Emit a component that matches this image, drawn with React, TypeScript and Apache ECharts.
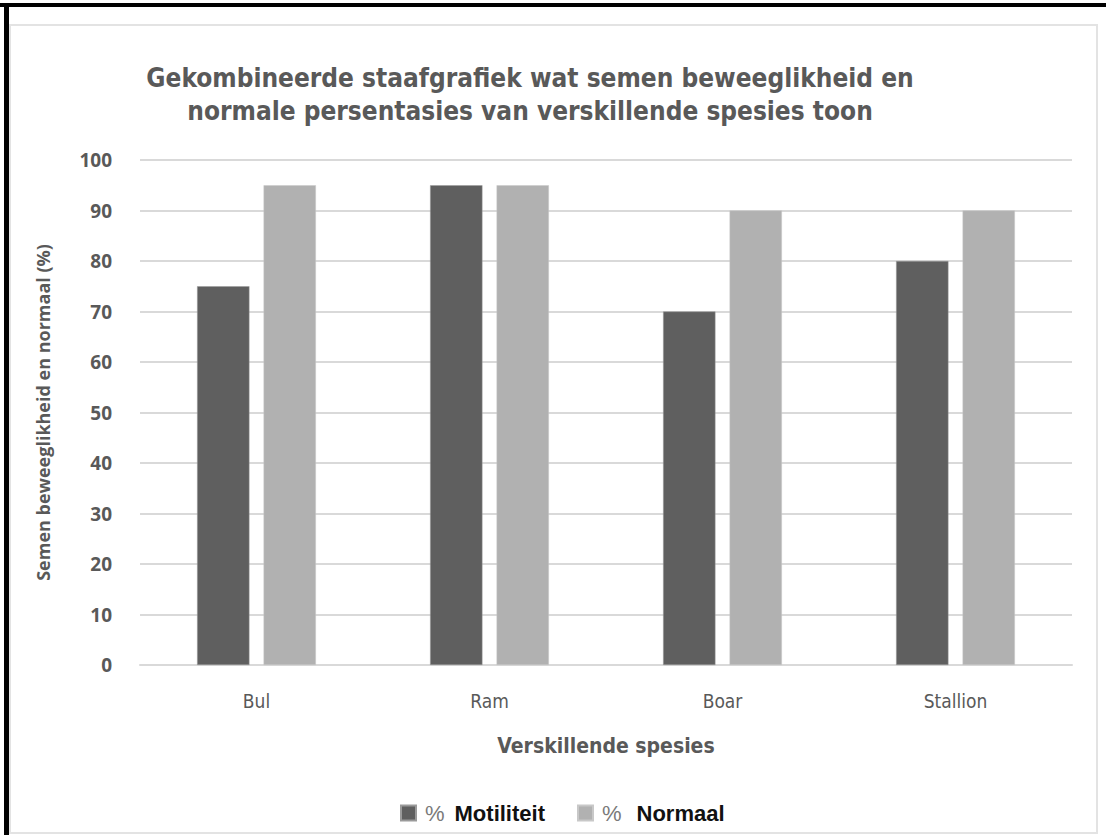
import React, { useEffect, useRef } from "react";
import * as echarts from "echarts";

const categories = ["Bul", "Ram", "Boar", "Stallion"];
const motiliteit = [75, 95, 70, 80];
const normaal = [95, 95, 90, 90];
const seriesNames = ["% Motiliteit", "% Normaal"];
const titleText =
  "Gekombineerde staafgrafiek wat semen beweeglikheid en\nnormale persentasies van verskillende spesies toon";
const yAxisName = "Semen beweeglikheid en normaal (%)";
const xAxisName = "Verskillende spesies";

const condensed = "'Liberation Sans Narrow', 'DejaVu Sans Condensed', 'Open Sans', sans-serif";

export default function App() {
  const ref = useRef<HTMLDivElement>(null);
  useEffect(() => {
    if (!ref.current) return;
    const chart = echarts.init(ref.current, null, { renderer: "svg" });
    chart.setOption({
      animation: false,
      backgroundColor: "#ffffff",
      graphic: [
        { type: "rect", shape: { x: 10, y: 25, width: 1087, height: 808 }, style: { fill: "none", stroke: "#e3e3e3", lineWidth: 2 }, silent: true },
        { type: "rect", shape: { x: 0, y: 3, width: 1106, height: 4 }, style: { fill: "#000" }, silent: true },
        { type: "rect", shape: { x: 4, y: 3, width: 5, height: 832 }, style: { fill: "#000" }, silent: true },
      ],
      title: {
        text: titleText,
        left: 525,
        textAlign: "center",
        top: 56,
        textStyle: {
          fontFamily: condensed,
          fontSize: 26,
          fontWeight: 600,
          color: "#595959",
          lineHeight: 33,
        },
      },
      legend: {
        bottom: 6,
        left: 395,
        itemWidth: 15,
        itemHeight: 15,
        itemGap: 32,
        icon: "rect",
        data: seriesNames,
        formatter: (name: string) =>
          name === seriesNames[1]
            ? `{q|%}{b|${name.replace("% ", "")}}`
            : `{p|%}{b|${name.replace("% ", "")}}`,
        textStyle: {
          rich: {
            p: { fontFamily: "Arial, 'Liberation Sans', sans-serif", fontSize: 22, color: "#7a7a7a", padding: [0, 10, 0, 4] },
            q: { fontFamily: "Arial, 'Liberation Sans', sans-serif", fontSize: 22, color: "#7a7a7a", padding: [0, 15, 0, 4] },
            b: { fontFamily: "Arial, 'Liberation Sans', sans-serif", fontSize: 22, fontWeight: "bold", color: "#111" },
          },
        },
      },
      grid: { left: 140, right: 34, top: 160, bottom: 170, containLabel: false },
      xAxis: {
        type: "category",
        data: categories,
        name: xAxisName,
        nameLocation: "middle",
        nameGap: 70,
        nameTextStyle: { fontFamily: condensed, fontSize: 21, fontWeight: "bold", color: "#595959" },
        axisLine: { lineStyle: { color: "#d9d9d9", width: 2 } },
        axisTick: { show: false },
        axisLabel: { margin: 26, fontFamily: condensed, fontSize: 19, color: "#595959" },
      },
      yAxis: {
        type: "value",
        min: 0,
        max: 100,
        interval: 10,
        name: yAxisName,
        nameLocation: "middle",
        nameGap: 88,
        nameTextStyle: { fontFamily: "'Open Sans', sans-serif", fontSize: 18, fontWeight: "bold", color: "#595959" },
        axisLine: { show: false },
        axisTick: { show: false },
        splitLine: { lineStyle: { color: "#d9d9d9", width: 2 } },
        axisLabel: { margin: 28, fontFamily: "'Open Sans', sans-serif", fontSize: 19, fontWeight: "bold", color: "#595959" },
      },
      series: [
        {
          name: seriesNames[0],
          type: "bar",
          data: motiliteit,
          barGap: "27%",
          barCategoryGap: "49%",
          itemStyle: { color: "#5f5f5f", borderColor: "#9a9a9a", borderWidth: 0.5 },
        },
        {
          name: seriesNames[1],
          type: "bar",
          data: normaal,
          itemStyle: { color: "#b1b1b1", borderColor: "#c8c8c8", borderWidth: 0.5 },
        },
      ],
    });
    return () => chart.dispose();
  }, []);
  return (
    <div
      ref={ref}
      style={{ position: "absolute", left: 0, top: 0, width: 1106, height: 835 }}
    />
  );
}
